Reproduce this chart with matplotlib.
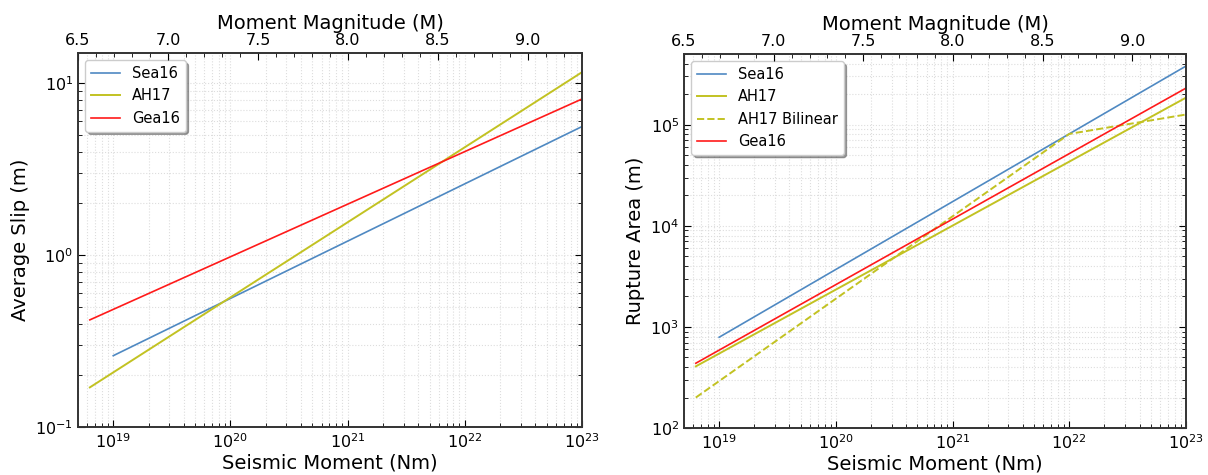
import numpy as np
import matplotlib
matplotlib.use("Agg")
import matplotlib.pyplot as plt
from matplotlib.ticker import MultipleLocator, LogLocator, NullFormatter

# ---- data ----
# Average slip (m) vs seismic moment (Nm)
slip_sea16_m0 = [1e19, 1e23]
slip_sea16 = [0.26, 5.6]
slip_ah17_m0 = [6.31e18, 1e23]
slip_ah17 = [0.17, 11.6]
slip_gea16_m0 = [6.31e18, 1e23]
slip_gea16 = [0.42, 8.1]

# Rupture area (m) vs seismic moment (Nm)
area_sea16_m0 = [1e19, 1e23]
area_sea16 = [790, 3.8e5]
area_ah17_m0 = [6.31e18, 1e23]
area_ah17 = [407, 1.85e5]
area_ah17bl_m0 = [6.31e18, 1e22, 1e23]
area_ah17bl = [200, 8.1e4, 1.26e5]
area_gea16_m0 = [6.31e18, 1e23]
area_gea16 = [437, 2.3e5]

mw_ticks = [6.5, 7.0, 7.5, 8.0, 8.5, 9.0]

C_SEA = "#4f89c2"
C_AH = "#c2c222"
C_GEA = "#ff1a1a"

plt.rcParams["font.family"] = "DejaVu Sans"

fig = plt.figure(figsize=(12.08, 4.75), dpi=100)
W, H = 1208, 475


def make_ax(x0, x1, y0, y1):
    return fig.add_axes([x0 / W, 1 - y1 / H, (x1 - x0) / W, (y1 - y0) / H])


def style(ax, ylabel, ylim):
    ax.set_xscale("log")
    ax.set_yscale("log")
    ax.set_xlim(5e18, 1e23)
    ax.set_ylim(*ylim)
    ax.set_xlabel("Seismic Moment (Nm)", fontsize=14, labelpad=2)
    ax.set_ylabel(ylabel, fontsize=14, labelpad=4)
    ax.tick_params(which="both", direction="in", right=True, top=False,
                   labelsize=11.5)
    ax.tick_params(which="major", length=5)
    ax.tick_params(which="minor", length=3)
    ax.xaxis.set_minor_locator(LogLocator(base=10, subs=np.arange(2, 10), numticks=20))
    ax.xaxis.set_minor_formatter(NullFormatter())
    ax.yaxis.set_minor_locator(LogLocator(base=10, subs=np.arange(2, 10), numticks=20))
    ax.yaxis.set_minor_formatter(NullFormatter())
    ax.grid(True, which="both", linestyle=":", color="#dddddd", linewidth=0.8)
    for s in ax.spines.values():
        s.set_linewidth(1.2)
        s.set_color("#333333")
    top = ax.twiny()
    top.set_xlim(6.5, 9.3)
    top.set_xticks(mw_ticks)
    top.xaxis.set_minor_locator(MultipleLocator(0.1))
    top.set_xlabel("Moment Magnitude (M)", fontsize=14, labelpad=3)
    top.tick_params(which="both", direction="in", labelsize=11.5)
    top.tick_params(which="major", length=5)
    top.tick_params(which="minor", length=3)
    for s in top.spines.values():
        s.set_linewidth(1.2)
        s.set_color("#333333")
    return top


ax1 = make_ax(78, 582, 53, 427)
ax1.plot(slip_sea16_m0, slip_sea16, color=C_SEA, lw=1.2, label="Sea16")
ax1.plot(slip_ah17_m0, slip_ah17, color=C_AH, lw=1.4, label="AH17")
ax1.plot(slip_gea16_m0, slip_gea16, color=C_GEA, lw=1.2, label="Gea16")
style(ax1, "Average Slip (m)", (0.1, 15))
ax1.legend(loc="upper left", fontsize=10.5, shadow=True, fancybox=True,
           framealpha=1, edgecolor="#cccccc")

ax2 = make_ax(684, 1186, 54, 428)
ax2.plot(area_sea16_m0, area_sea16, color=C_SEA, lw=1.2, label="Sea16")
ax2.plot(area_ah17_m0, area_ah17, color=C_AH, lw=1.4, label="AH17")
ax2.plot(area_ah17bl_m0, area_ah17bl, color=C_AH, lw=1.4, ls="--", label="AH17 Bilinear")
ax2.plot(area_gea16_m0, area_gea16, color=C_GEA, lw=1.2, label="Gea16")
style(ax2, "Rupture Area (m)", (1e2, 5e5))
ax2.legend(loc="upper left", fontsize=10.5, shadow=True, fancybox=True,
           framealpha=1, edgecolor="#cccccc")

fig.savefig("out.png", dpi=100)
